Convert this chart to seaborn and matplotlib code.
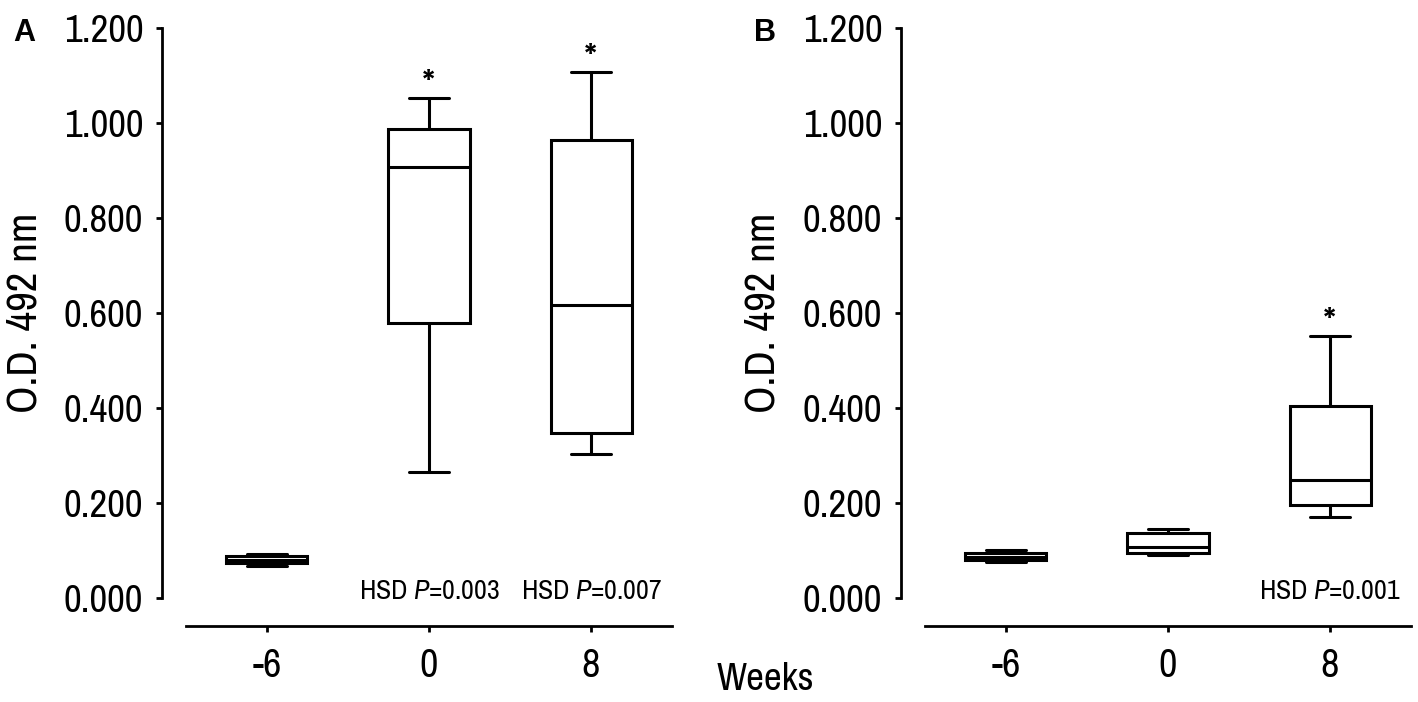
import numpy as np
import pandas as pd
import matplotlib
matplotlib.use('Agg')
import matplotlib.pyplot as plt
import seaborn as sns

# weeks on x axis
weeks = ['-6', '0', '8']

# five number summaries: min, q1, median, q3, max
a_m6 = [0.068, 0.073, 0.080, 0.088, 0.092]
a_0 = [0.266, 0.580, 0.908, 0.987, 1.053]
a_8 = [0.303, 0.347, 0.616, 0.964, 1.108]

b_m6 = [0.076, 0.079, 0.087, 0.095, 0.101]
b_0 = [0.090, 0.094, 0.108, 0.136, 0.145]
b_8 = [0.171, 0.196, 0.248, 0.405, 0.552]

y_ticks = [0.0, 0.2, 0.4, 0.6, 0.8, 1.0, 1.2]

# significance marks
a_stars = ['0', '8']
b_stars = ['8']
a_hsd = {'0': '0.003', '8': '0.007'}
b_hsd = {'8': '0.001'}

sns.set_theme(style='ticks')
narrow = 'Archivo Narrow'
plt.rcParams['font.family'] = [narrow, 'Liberation Sans', 'DejaVu Sans']
plt.rcParams['mathtext.fontset'] = 'custom'
plt.rcParams['mathtext.rm'] = narrow
plt.rcParams['mathtext.it'] = narrow + ':italic'
plt.rcParams['text.color'] = 'black'
plt.rcParams['axes.labelcolor'] = 'black'


def make_df(groups):
    rows = []
    for wk, vals in zip(weeks, groups):
        for v in vals:
            rows.append({'week': wk, 'od': v})
    return pd.DataFrame(rows)


df_a = make_df([a_m6, a_0, a_8])
df_b = make_df([b_m6, b_0, b_8])

W, H = 1418, 702
fig = plt.figure(figsize=(W / 100, H / 100), dpi=100)
ax_a = fig.add_axes([162 / W, 104 / H, 511 / W, 570 / H])
ax_b = fig.add_axes([901 / W, 104 / H, 511 / W, 570 / H])


def draw_panel(ax, df, stars, hsd, label_x):
    sns.boxplot(data=df, x='week', y='od', order=weeks, color='white',
                linecolor='black', linewidth=2.2, width=0.5, whis=(0, 100),
                showfliers=False, ax=ax)
    ax.set_xlim(-0.648, 2.506)
    ax.set_ylim(0, 1.2)
    ax.set_yticks(y_ticks)
    ax.set_yticklabels(['%.3f' % t for t in y_ticks])
    ax.set_xlabel('')
    ax.set_ylabel('O.D. 492 nm', fontsize=31)
    ax.yaxis.set_label_coords(label_x, 0.5)
    sns.despine(ax=ax)
    ax.spines['bottom'].set_position(('outward', 20))
    ax.spines['bottom'].set_bounds(-0.5, 2.5)
    ax.spines['left'].set_bounds(0, 1.2)
    for s in ['left', 'bottom']:
        ax.spines[s].set_linewidth(2)
        ax.spines[s].set_color('black')
    ax.tick_params(axis='y', labelsize=28, length=4.5, width=2, pad=9, colors='black')
    ax.tick_params(axis='x', labelsize=29, length=4.5, width=2, pad=11, colors='black')

    stats = df.groupby('week')['od'].max()
    for wk in stars:
        ax.text(weeks.index(wk), stats[wk] + 0.0, '*', ha='center', va='baseline',
                fontsize=30, clip_on=False)
    for wk, p in hsd.items():
        ax.text(weeks.index(wk), -0.003, 'HSD $\\it{P}$=' + p, ha='center',
                va='baseline', fontsize=20)


draw_panel(ax_a, df_a, a_stars, a_hsd, -0.231)
draw_panel(ax_b, df_b, b_stars, b_hsd, -0.233)

fig.text(765 / W, 1 - 680 / H, 'Weeks', ha='center', va='center', fontsize=28)
fig.text(24 / W, 1 - 33 / H, 'A', ha='center', va='center', fontsize=22,
         fontweight='bold', family=['Liberation Sans', 'DejaVu Sans'])
fig.text(765 / W, 1 - 33 / H, 'B', ha='center', va='center', fontsize=22,
         fontweight='bold', family=['Liberation Sans', 'DejaVu Sans'])

fig.savefig('out.png', dpi=100, facecolor='white')
